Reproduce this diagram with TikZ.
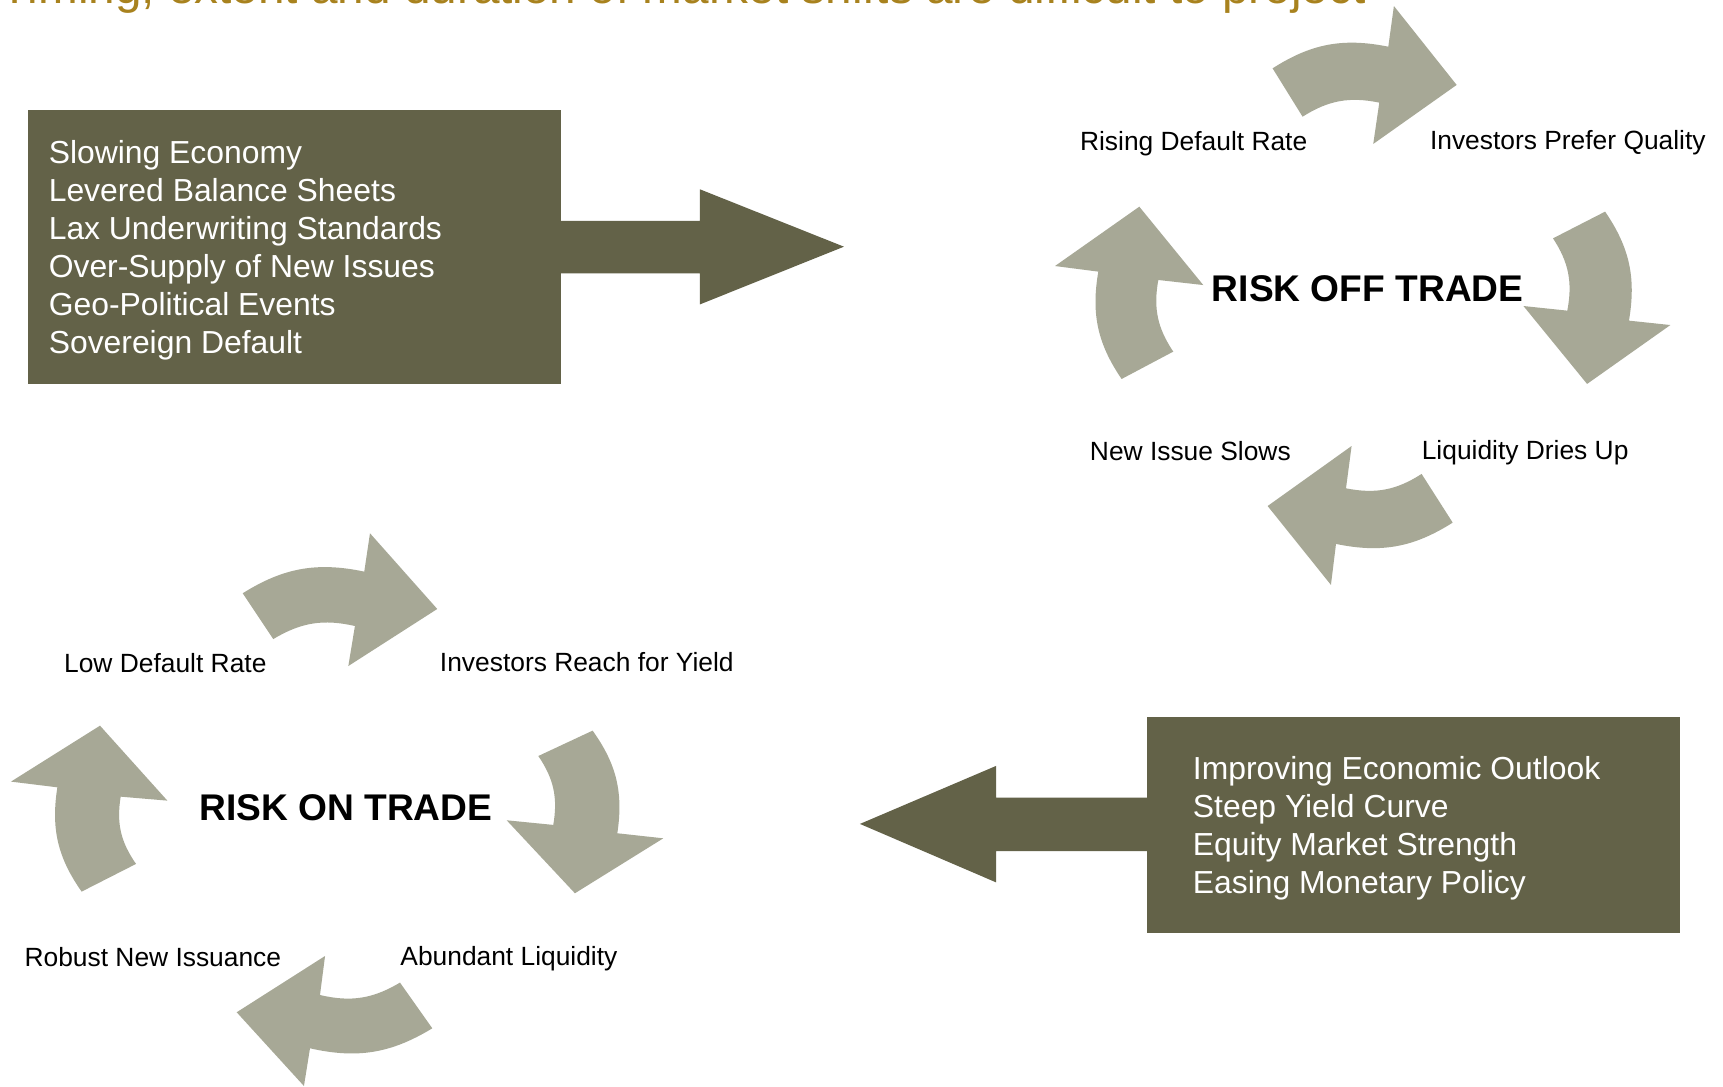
\documentclass[tikz,border=0pt]{standalone}
\usepackage{fontspec}
\setmainfont{Liberation Sans}
\definecolor{boxolive}{HTML}{636248}
\definecolor{arrowgray}{HTML}{A7A896}
\definecolor{titlegold}{HTML}{A8821E}
\newcommand\cycarrow[7]{\fill[cyc] #1 to[bend left=22] #2 -- #3 -- #4 -- #5 -- #6 to[bend right=22] #7 -- cycle;}
\begin{document}
\begin{tikzpicture}[x=0.5pt,y=0.5pt,
  cyc/.style={fill=arrowgray, draw=none},
  darkfill/.style={fill=boxolive, draw=none},
  darkbox/.style={fill=boxolive, draw=none, inner sep=0pt, anchor=north west},
  lbl/.style={anchor=base west, inner sep=0pt, font=\fontsize{12}{14}\selectfont},
  boxtxt/.style={anchor=base west, inner sep=0pt, text=white, font=\fontsize{14.5}{17}\selectfont},
  cyctitle/.style={anchor=base west, inner sep=0pt, font=\fontsize{16.9}{20}\selectfont\bfseries}]
\useasboundingbox (0,0) rectangle (1568,-989);
\fill[white] (0,0) rectangle (1568,-989);

% title (cut at the top edge)
\begin{scope}
\clip (0,0) rectangle (1568,-989);
\node[anchor=base west, inner sep=0pt, text=titlegold, font=\fontsize{21.7}{26}\selectfont] (title) at (0,-3.6) {Timing, extent and duration of market shifts are difficult to project};
\end{scope}

% top-left box and arrow
\node[darkbox, minimum width=242.5pt, minimum height=124.7pt] (topbox) at (25,-100) {};
\fill[darkfill] (505,-201) -- (637,-201) -- (637,-172.3) -- (768,-224.5) -- (637,-277) -- (637,-248.7) -- (505,-248.7) -- cycle;
\foreach \t [count=\i from 0] in {Slowing Economy, Levered Balance Sheets, Lax Underwriting Standards, Over-Supply of New Issues, Geo-Political Events, Sovereign Default}
  \node[boxtxt] (tl\i) at (44,-148.6-34.6*\i) {\t};

% bottom-right box and arrow
\node[darkbox, minimum width=242.8pt, minimum height=98.3pt] (brbox) at (1043,-651.8) {};
\fill[darkfill] (1047,-725.8) -- (906.5,-725.8) -- (906.5,-697) -- (782.6,-749.8) -- (906.5,-803) -- (906.5,-774.5) -- (1047,-774.5) -- cycle;
\foreach \t [count=\i from 0] in {Improving Economic Outlook, Steep Yield Curve, Equity Market Strength, Easing Monetary Policy}
  \node[boxtxt] (br\i) at (1085.2,-709-34.8*\i) {\t};

% RISK ON cycle
\cycarrow{(220.9,-539.9)}{(331.5,-520.2)}{(336.7,-485.3)}{(397.9,-554.2)}{(317,-606.1)}{(323,-569.7)}{(248.7,-581.6)}
\cycarrow{(539.3,-664.9)}{(561.8,-758.3)}{(603.6,-762.9)}{(523.2,-812.9)}{(461.1,-746.5)}{(503.5,-750.7)}{(489.9,-688)}
\cycarrow{(393.4,-935.8)}{(282.1,-954)}{(276.6,-988.3)}{(215.4,-921.2)}{(295.8,-870)}{(291.2,-905.5)}{(364,-894.2)}
\cycarrow{(74.3,-811.4)}{(52.2,-716.5)}{(10,-711.3)}{(91,-660.4)}{(152.3,-728.6)}{(109.8,-725)}{(123.8,-786.2)}
\node[cyctitle] (riskon) at (181,-747) {RISK ON TRADE};
\node[lbl] (lowdef) at (58,-612) {Low Default Rate};
\node[lbl] (reach) at (400,-611) {Investors Reach for Yield};
\node[lbl] (robust) at (22,-879.5) {Robust New Issuance};
\node[lbl] (abund) at (364,-878.5) {Abundant Liquidity};

% RISK OFF cycle
\cycarrow{(1158.1,-62.2)}{(1263.4,-42.5)}{(1268.5,-5.5)}{(1325.6,-77.3)}{(1249.7,-131)}{(1255.2,-93.4)}{(1185.4,-106.2)}
\cycarrow{(1460.7,-192.6)}{(1482.4,-291.8)}{(1520.1,-295.8)}{(1444.3,-349.4)}{(1386.4,-278.5)}{(1426.3,-282.7)}{(1413.3,-216.9)}
\cycarrow{(1322,-475.6)}{(1215.8,-495)}{(1211.2,-532.3)}{(1153.6,-460.5)}{(1230,-405.9)}{(1224.9,-444.4)}{(1293.7,-431.3)}
\cycarrow{(1020.7,-344.9)}{(999.5,-247.2)}{(960.1,-242.1)}{(1036.8,-188.1)}{(1095,-259.4)}{(1054.1,-254.8)}{(1067.7,-320)}
\node[cyctitle] (riskoff) at (1102.5,-274) {RISK OFF TRADE};
\node[lbl] (rising) at (982.5,-137.2) {Rising Default Rate};
\node[lbl] (prefer) at (1301,-136.5) {Investors Prefer Quality};
\node[lbl] (slows) at (991.5,-419.2) {New Issue Slows};
\node[lbl] (dries) at (1293.5,-418.5) {Liquidity Dries Up};
\end{tikzpicture}
\end{document}
